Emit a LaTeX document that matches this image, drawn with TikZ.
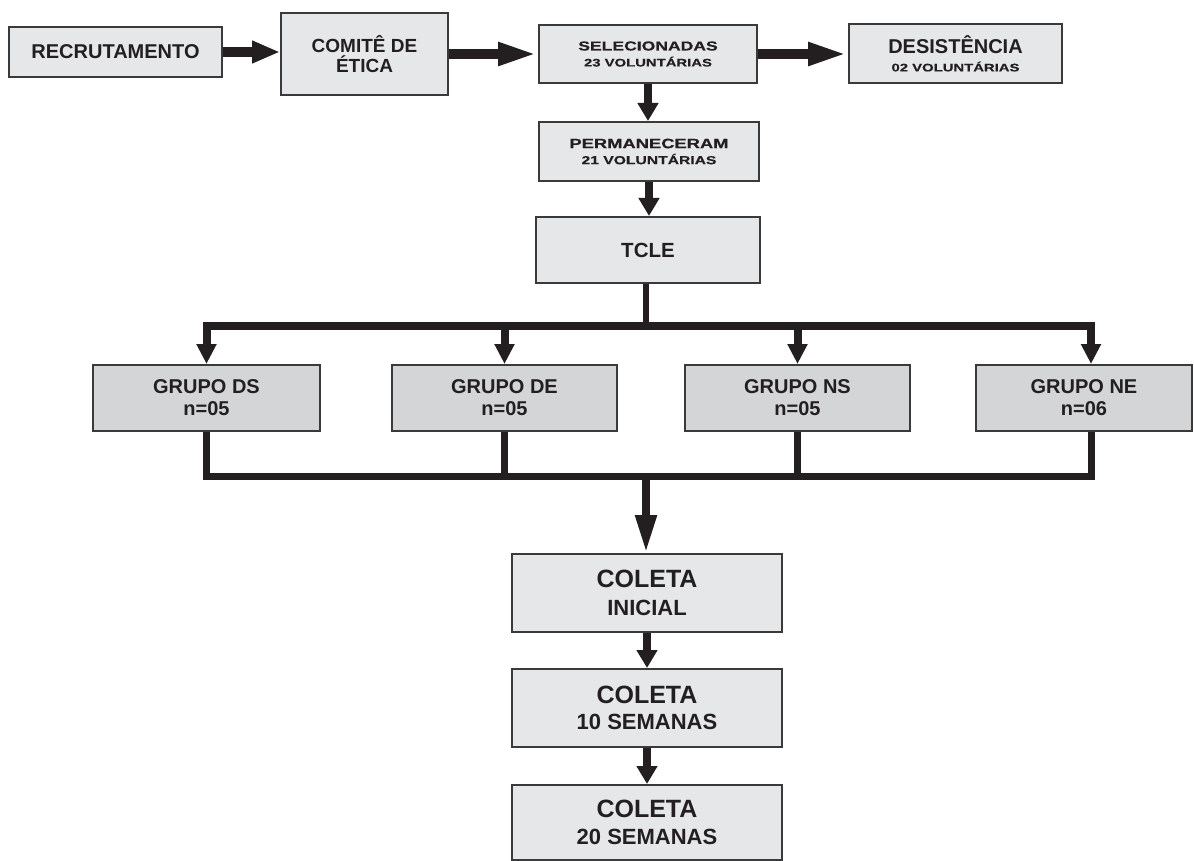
\documentclass[tikz,border=0pt]{standalone}
\usepackage{fontspec}
\setmainfont{Liberation Sans}
\newfontfamily\widefont[FakeStretch=1.35,FakeBold=0.4]{Liberation Sans}
\usetikzlibrary{arrows.meta}
\definecolor{boxfill}{HTML}{E6E7E9}
\definecolor{grpfill}{HTML}{D4D5D7}
\definecolor{edge}{HTML}{3A3A3A}
\definecolor{ink}{HTML}{231F20}
\begin{document}
\begin{tikzpicture}[x=0.5pt,y=-0.5pt,
  box/.style 2 args={draw=edge, line width=1pt, fill=boxfill,
    minimum width=#1*0.5pt, minimum height=#2*0.5pt, inner sep=0pt,
    align=center, text=ink},
  fs/.style 2 args={font=\bfseries\fontsize{#1}{#2}\selectfont},
  grp/.style={fill=grpfill},
  harrow/.style={draw=ink, line width=5pt, -{Triangle[width=10.5pt,length=20pt]}},
  varrow/.style={draw=ink, line width=4pt, -{Triangle[width=10pt,length=9pt]}},
  barrow/.style={draw=ink, line width=4pt, -{Triangle[width=9.5pt,length=10pt]}},
  carrow/.style={draw=ink, line width=4pt, -{Triangle[width=10pt,length=19pt]}},
  bus/.style={draw=ink, line width=3.5pt},
  busend/.style={draw=ink, line width=3.5pt, line cap=rect}]
\useasboundingbox (0,0) rectangle (1194,861);

% top row
\node[box={213}{50}, fs={10}{12}] (rec) at (115.5,52) {RECRUTAMENTO};
\node[box={167}{82}, fs={9.5}{10}] (com) at (364.5,54) {COMITÊ DE\\ÉTICA};
\node[box={218}{58}, fs={6.5}{8}] (sel) at (648,54) {\widefont\fontsize{6.5}{8}\selectfont SELECIONADAS\\\widefont\fontsize{5.5}{8}\selectfont 23 VOLUNTÁRIAS};
\node[box={213}{59}, fs={10}{9}] (des) at (955.5,53.5) {DESISTÊNCIA\\\widefont\fontsize{5.5}{9}\selectfont 02 VOLUNTÁRIAS};

% middle column
\node[box={220}{59}, fs={6.8}{8}] (per) at (649,151.5) {\widefont\fontsize{6.8}{8}\selectfont PERMANECERAM\\\widefont\fontsize{5.8}{8}\selectfont 21 VOLUNTÁRIAS};
\node[box={224}{66}, fs={10.25}{12}] (tcle) at (648,250) {TCLE};

% groups
\node[box={227}{66}, grp, fs={10}{11}] (ds) at (206.5,398) {GRUPO DS\\n=05};
\node[box={225}{66}, grp, fs={10}{11}] (de) at (504.5,398) {GRUPO DE\\n=05};
\node[box={225}{66}, grp, fs={10}{11}] (ns) at (797.5,398) {GRUPO NS\\n=05};
\node[box={216}{66}, grp, fs={10}{11}] (ne) at (1084,398) {GRUPO NE\\n=06};

% coletas
\node[box={270}{78}, fs={12.5}{14}] (c1) at (647,593) {COLETA\\\fontsize{11}{14}\selectfont INICIAL};
\node[box={270}{78}, fs={12.5}{13}] (c2) at (647,708) {COLETA\\\fontsize{11}{13}\selectfont 10 SEMANAS};
\node[box={270}{75}, fs={12.5}{13.5}] (c3) at (647,822.5) {COLETA\\\fontsize{11}{13.5}\selectfont 20 SEMANAS};

% horizontal arrows
\draw[harrow, -{Triangle[width=10.5pt,length=14pt]}] (rec.east) -- (rec.east -| com.west);
\draw[harrow] (com.east |- sel.west) -- (sel.west);
\draw[harrow] (sel.east) -- (sel.east -| des.west);

% vertical arrows
\draw[varrow] (sel.south) -- (sel.south |- per.north);
\draw[varrow] (per.south) -- (per.south |- tcle.north);

% buses
\coordinate (bt) at (646,326);
\coordinate (bb) at (646,476);
\coordinate (nex) at (1091,398);
\draw[draw=ink, line width=3pt] (tcle.south -| bt) -- (bt);
\draw[busend] (ds.north |- bt) -- (nex |- bt);
\draw[barrow] (ds.north |- bt) -- (ds.north);
\draw[barrow] (de.north |- bt) -- (de.north);
\draw[barrow] (ns.north |- bt) -- (ns.north);
\draw[barrow] (nex |- bt) -- (nex |- ne.north);

\draw[bus] (ds.south) -- (ds.south |- bb);
\draw[bus] (de.south) -- (de.south |- bb);
\draw[bus] (ns.south) -- (ns.south |- bb);
\draw[bus] (nex |- ne.south) -- (nex |- bb);
\draw[busend] (ds.south |- bb) -- (nex |- bb);

\draw[carrow] (bb) -- (bb |- c1.north);
\draw[varrow] (c1.south) -- (c2.north);
\draw[varrow] (c2.south) -- (c3.north);
\end{tikzpicture}
\end{document}
